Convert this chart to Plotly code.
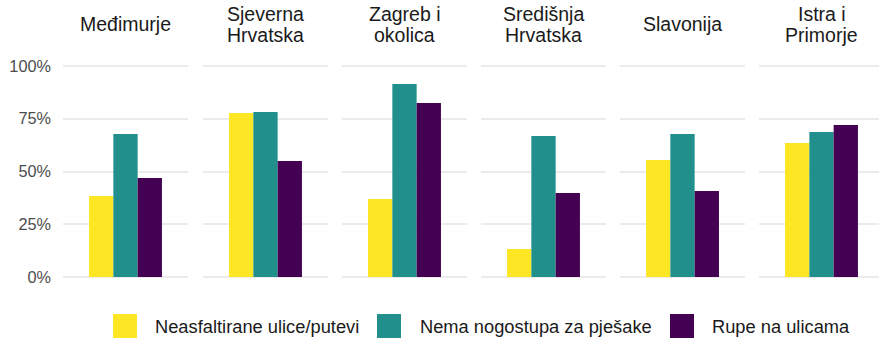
import plotly.graph_objects as go

# Regions (facets) and their wrapped titles
regions = ["Međimurje", "Sjeverna Hrvatska", "Zagreb i okolica",
           "Središnja Hrvatska", "Slavonija", "Istra i Primorje"]
region_title_lines = [["Međimurje"], ["Sjeverna", "Hrvatska"], ["Zagreb i", "okolica"],
                      ["Središnja", "Hrvatska"], ["Slavonija"], ["Istra i", "Primorje"]]

# Problem categories (series) and their shares per region
series_names = ["Neasfaltirane ulice/putevi", "Nema nogostupa za pješake", "Rupe na ulicama"]
neasfaltirane = [0.384, 0.777, 0.370, 0.133, 0.555, 0.635]
nogostupi = [0.678, 0.782, 0.915, 0.668, 0.678, 0.687]
rupe = [0.469, 0.550, 0.825, 0.398, 0.408, 0.720]
series_values = [neasfaltirane, nogostupi, rupe]
series_colors = ["#FDE725", "#21908C", "#440154"]

tick_vals = [0, 0.25, 0.5, 0.75, 1.0]
tick_text = ["0%", "25%", "50%", "75%", "100%"]

W, H = 879, 338
FONT = "Liberation Sans, Arial, Helvetica, sans-serif"

# Panel geometry in pixels
panel_left = [63, 203, 342, 481, 620, 759]
panel_w = 125
half_range = 0.6          # discrete axis with one category, expanded by 0.6
group_w = 0.7             # total width of dodged bars
bar_w = group_w / 3
y_bottom_px, y_top_px = 277, 66   # pixel rows of 0% and 100%
y_pad = 0.02


def py_to_paper(y):
    return 1 - y / H


fig = go.Figure()
layout = dict()

px_per_unit_y = (y_bottom_px - y_top_px) / 1.0
y_dom = [py_to_paper(y_bottom_px + y_pad * px_per_unit_y),
         py_to_paper(y_top_px - y_pad * px_per_unit_y)]

for p, region in enumerate(regions):
    ax_suffix = "" if p == 0 else str(p + 1)
    left = panel_left[p]
    right = min(left + panel_w, W)
    x_hi = -half_range + (right - left) / panel_w * (2 * half_range)
    layout["xaxis" + ax_suffix] = dict(
        domain=[left / W, right / W], range=[-half_range, x_hi],
        showgrid=False, zeroline=False, showticklabels=False, ticks="",
        anchor="y" + ax_suffix, fixedrange=True, automargin=False,
    )
    layout["yaxis" + ax_suffix] = dict(
        domain=y_dom, range=[-y_pad, 1 + y_pad], anchor="x" + ax_suffix,
        tickvals=tick_vals, ticktext=tick_text, showticklabels=(p == 0),
        showgrid=True, gridcolor="#EBEBEB", gridwidth=2, zeroline=False,
        ticks="", ticklabelstandoff=11, automargin=False,
        tickfont=dict(family=FONT, size=16.3, color="#4D4D4D"),
        fixedrange=True,
    )
    for s, name in enumerate(series_names):
        fig.add_bar(
            x=[0], y=[series_values[s][p]], name=name,
            width=[bar_w], offset=[-group_w / 2 + s * bar_w],
            marker=dict(color=series_colors[s], line=dict(width=0)),
            xaxis="x" + ax_suffix, yaxis="y" + ax_suffix,
            showlegend=False, hovertemplate=region + "<br>" + name + ": %{y:.0%}<extra></extra>",
        )

annotations = []
# Facet strip titles
line_gap = 21
for p, lines in enumerate(region_title_lines):
    left = panel_left[p]
    cx = (left + panel_w / 2) / W
    n = len(lines)
    center = 24.3
    for k, line in enumerate(lines):
        ypx = center + (k - (n - 1) / 2) * line_gap
        annotations.append(dict(
            text=line, x=cx, y=py_to_paper(ypx), xref="paper", yref="paper",
            xanchor="center", yanchor="middle", showarrow=False,
            font=dict(family=FONT, size=19.5, color="#1A1A1A"),
        ))

# Legend drawn as key squares plus labels
key_left = [113, 377, 670]
key_size = 24
key_top = 314
text_left = [153, 418, 710]
shapes = []
for s, name in enumerate(series_names):
    shapes.append(dict(
        type="rect", xref="paper", yref="paper",
        x0=key_left[s] / W, x1=(key_left[s] + key_size) / W,
        y0=py_to_paper(key_top + key_size), y1=py_to_paper(key_top),
        fillcolor=series_colors[s], line=dict(width=0),
    ))
    annotations.append(dict(
        text=name, x=text_left[s] / W, y=py_to_paper(326), xref="paper", yref="paper",
        xanchor="left", yanchor="middle", showarrow=False,
        font=dict(family=FONT, size=18.3, color="#1A1A1A"),
    ))

fig.update_layout(
    width=W, height=H, margin=dict(l=0, r=0, t=0, b=0, pad=0),
    paper_bgcolor="white", plot_bgcolor="white",
    barmode="overlay", showlegend=False,
    annotations=annotations, shapes=shapes,
    **layout,
)

fig.write_html("out.html", config={"displayModeBar": False})
